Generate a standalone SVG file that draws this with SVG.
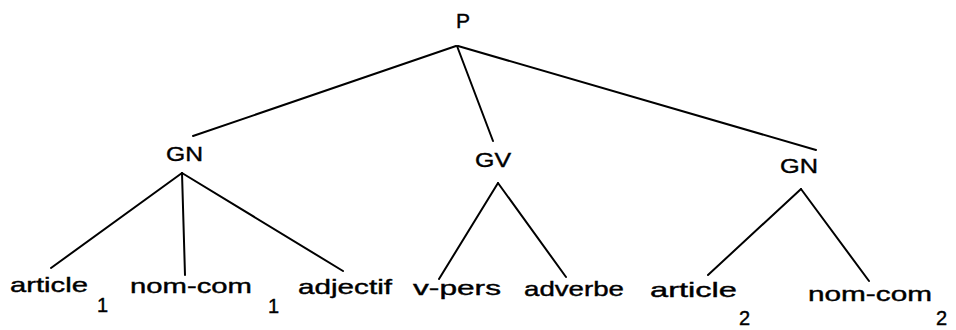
<svg xmlns="http://www.w3.org/2000/svg" width="956" height="330" viewBox="0 0 956 330">
<style>
text{font-family:"Liberation Sans",Arial,sans-serif;fill:#000;stroke:#000;stroke-width:0.4;font-size:21px}
.leaf{font-size:21px}
.sub{font-size:20px}
.edge{stroke:#000;stroke-width:2;fill:none;stroke-linecap:round}
</style>
<rect width="956" height="330" fill="#fff"/>
<g id="connectors">
<line class="edge" x1="456" y1="46" x2="193" y2="136"/>
<line class="edge" x1="457" y1="46" x2="493" y2="141"/>
<line class="edge" x1="458" y1="46" x2="816" y2="150"/>
<line class="edge" x1="182" y1="173" x2="51" y2="268"/>
<line class="edge" x1="182" y1="173" x2="185" y2="275"/>
<line class="edge" x1="182" y1="173" x2="343" y2="271"/>
<line class="edge" x1="498" y1="183" x2="439" y2="279"/>
<line class="edge" x1="498" y1="183" x2="566" y2="277"/>
<line class="edge" x1="801" y1="189" x2="708" y2="275"/>
<line class="edge" x1="801" y1="189" x2="869" y2="281"/>
</g>
<g id="P"><text x="456" y="28">P</text></g>
<g id="GN1"><text x="166" y="161" textLength="37" lengthAdjust="spacingAndGlyphs">GN</text></g>
<g id="GV"><text x="475" y="167" textLength="36" lengthAdjust="spacingAndGlyphs">GV</text></g>
<g id="GN2"><text x="780" y="173" textLength="38" lengthAdjust="spacingAndGlyphs">GN</text></g>
<g id="article1"><text class="leaf" x="10" y="292" textLength="78" lengthAdjust="spacingAndGlyphs">article</text><text class="sub" x="97" y="312">1</text></g>
<g id="nomcom1"><text class="leaf" x="130" y="293" textLength="122" lengthAdjust="spacingAndGlyphs">nom-com</text><text class="sub" x="268" y="313">1</text></g>
<g id="adjectif"><text class="leaf" x="298" y="294" textLength="94" lengthAdjust="spacingAndGlyphs">adjectif</text></g>
<g id="vpers"><text class="leaf" x="413" y="295" textLength="88" lengthAdjust="spacingAndGlyphs">v-pers</text></g>
<g id="adverbe"><text class="leaf" x="524" y="296" textLength="100" lengthAdjust="spacingAndGlyphs">adverbe</text></g>
<g id="article2"><text class="leaf" x="650" y="297" textLength="87" lengthAdjust="spacingAndGlyphs">article</text><text class="sub" x="739" y="325">2</text></g>
<g id="nomcom2"><text class="leaf" x="808" y="301" textLength="124" lengthAdjust="spacingAndGlyphs">nom-com</text><text class="sub" x="936" y="325">2</text></g>
</svg>
